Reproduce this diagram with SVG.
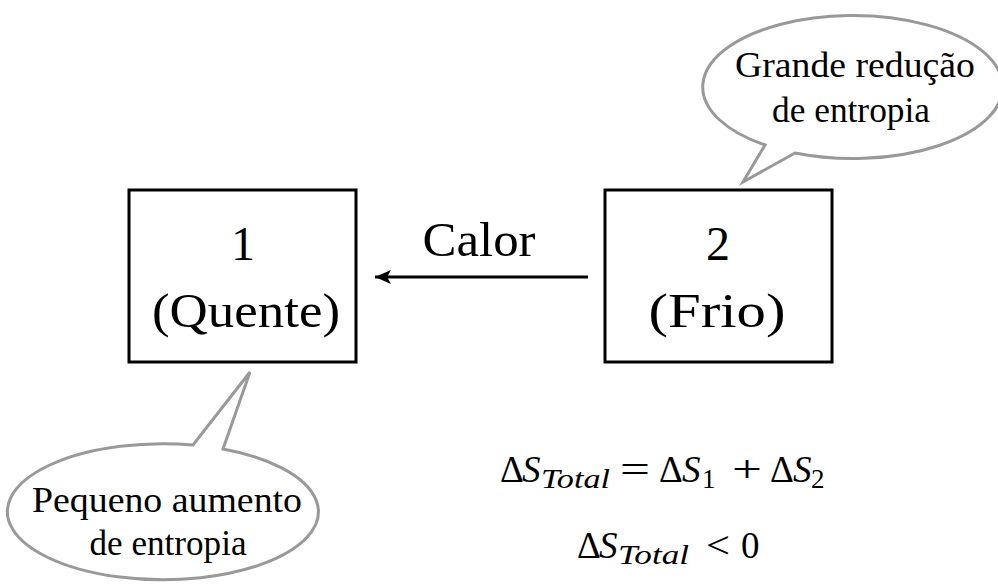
<svg xmlns="http://www.w3.org/2000/svg" width="998" height="585" viewBox="0 0 998 585">
<style>
  .box { fill: #ffffff; stroke: #000000; stroke-width: 3; }
  .bubble { fill: #ffffff; stroke: #999999; stroke-width: 3; stroke-linejoin: miter; }
  .t { font-family: "Liberation Serif", serif; fill: #000000; text-anchor: middle; }
  .big { font-size: 48px; }
  .mid { font-size: 35px; }
  .eq { font-family: "Liberation Serif", serif; fill: #000000; font-size: 37px; }
  .it { font-style: italic; }
  .sub { font-size: 27px; }
  .conn { stroke: #000000; stroke-width: 3; fill: none; }
</style>
<defs>
  <marker id="arrow" markerUnits="userSpaceOnUse" markerWidth="18" markerHeight="14" refX="16" refY="7" orient="auto">
    <path d="M0,0 L16,7 L0,14 L4,7 Z" fill="#000000"/>
  </marker>
</defs>
<rect width="998" height="585" fill="#ffffff"/>

<g id="connectors">
  <line class="conn" x1="588" y1="277" x2="375" y2="277" marker-end="url(#arrow)"/>
  <text class="t big" x="479" y="256" textLength="113" lengthAdjust="spacingAndGlyphs">Calor</text>
</g>

<g id="node1">
  <rect class="box" x="129" y="190" width="227" height="172"/>
  <text class="t big" x="243" y="260">1</text>
  <text class="t big" x="246" y="327" textLength="188" lengthAdjust="spacingAndGlyphs">(Quente)</text>
</g>

<g id="node2">
  <rect class="box" x="605" y="190" width="227" height="172"/>
  <text class="t big" x="718" y="260">2</text>
  <text class="t big" x="717" y="327" textLength="137" lengthAdjust="spacingAndGlyphs">(Frio)</text>
</g>

<g id="bubble-top">
  <path class="bubble" d="M765,145 A150,71.5 0 1 1 795,153 L743,182 Z"/>
  <text class="t mid" x="855" y="77" textLength="240" lengthAdjust="spacingAndGlyphs">Grande redução</text>
  <text class="t mid" x="851" y="122" textLength="158" lengthAdjust="spacingAndGlyphs">de entropia</text>
</g>

<g id="bubble-bottom">
  <path class="bubble" d="M223,449 A155.5,68 0 1 1 193,445 L250,372 Z"/>
  <text class="t mid" x="167" y="512" textLength="270" lengthAdjust="spacingAndGlyphs">Pequeno aumento</text>
  <text class="t mid" x="168" y="555" textLength="157" lengthAdjust="spacingAndGlyphs">de entropia</text>
</g>

<g id="equation1">
  <text class="eq" x="500" y="482">Δ</text>
  <text class="eq it" x="522" y="482">S</text>
  <text class="eq it sub" x="541" y="488" textLength="69" lengthAdjust="spacingAndGlyphs">Total</text>
  <text class="eq" x="620" y="482" textLength="30" lengthAdjust="spacingAndGlyphs">=</text>
  <text class="eq" x="659" y="482">Δ</text>
  <text class="eq it" x="682" y="482">S</text>
  <text class="eq sub" x="702" y="488">1</text>
  <text class="eq" x="732" y="482" textLength="30" lengthAdjust="spacingAndGlyphs">+</text>
  <text class="eq" x="770" y="482">Δ</text>
  <text class="eq it" x="793" y="482">S</text>
  <text class="eq sub" x="811" y="488">2</text>
</g>

<g id="equation2">
  <text class="eq" x="577" y="558">Δ</text>
  <text class="eq it" x="599" y="558">S</text>
  <text class="eq it sub" x="618" y="564" textLength="71" lengthAdjust="spacingAndGlyphs">Total</text>
  <text class="eq" x="706" y="558" textLength="24" lengthAdjust="spacingAndGlyphs">&lt;</text>
  <text class="eq" x="741" y="558">0</text>
</g>
</svg>
